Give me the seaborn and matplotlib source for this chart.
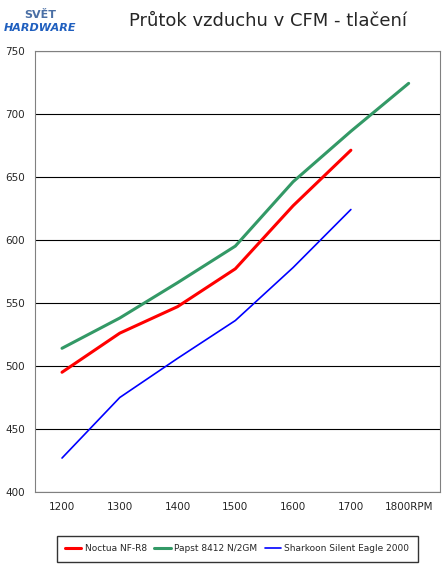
import matplotlib
matplotlib.use("Agg")
import matplotlib.pyplot as plt
import seaborn as sns
import pandas as pd

rpm = [1200, 1300, 1400, 1500, 1600, 1700, 1800]
noctua = [495, 526, 547, 577, 627, 671]
papst = [514, 538, 566, 595, 646, 686, 724]
sharkoon = [427, 475, 506, 536, 578, 624]
names = ["Noctua NF-R8", "Papst 8412 N/2GM", "Sharkoon Silent Eagle 2000"]
colors = ["#ff0000", "#339966", "#0000ff"]
widths = [2.2, 2.2, 1.2]

rows = []
for name, vals in zip(names, [noctua, papst, sharkoon]):
    for r, v in zip(rpm, vals):
        rows.append({"rpm": r, "cfm": v, "fan": name})
df = pd.DataFrame(rows)

sns.set_style("white")
fig = plt.figure(figsize=(4.47, 5.81), dpi=100)
ax = fig.add_axes([0.078, 0.153, 0.906, 0.76])

for name, c, w in zip(names, colors, widths):
    sns.lineplot(data=df[df.fan == name], x="rpm", y="cfm", color=c, lw=w, ax=ax, label=name)

ax.set_xlim(1153, 1854)
ax.set_ylim(400, 750)
ax.set_yticks(range(400, 751, 50))
ax.set_xticks(rpm)
ax.set_xticklabels([str(r) for r in rpm[:-1]] + ["1800RPM"], fontsize=7.5)
ax.tick_params(axis="y", labelsize=7.5)
ax.yaxis.grid(True, color="black", lw=0.8)
ax.set_xlabel("")
ax.set_ylabel("")
for s in ax.spines.values():
    s.set_color("#808080")
    s.set_linewidth(0.8)

ax.legend(loc="upper center", bbox_to_anchor=(0.5, -0.09), ncol=3, fontsize=6.5,
          frameon=True, fancybox=False, edgecolor="black", handlelength=1.8,
          columnspacing=0.8, handletextpad=0.4, borderpad=0.9)

fig.text(0.6, 0.963, "Průtok vzduchu v CFM - tlačení", ha="center", va="center", fontsize=13)
fig.text(0.09, 0.975, "SVĚT", ha="center", va="center", fontsize=8, weight="bold", color="#4a6fa5")
fig.text(0.09, 0.952, "HARDWARE", ha="center", va="center", fontsize=8, weight="bold", style="italic", color="#1f5fbf")

fig.savefig("out.png", dpi=100)
